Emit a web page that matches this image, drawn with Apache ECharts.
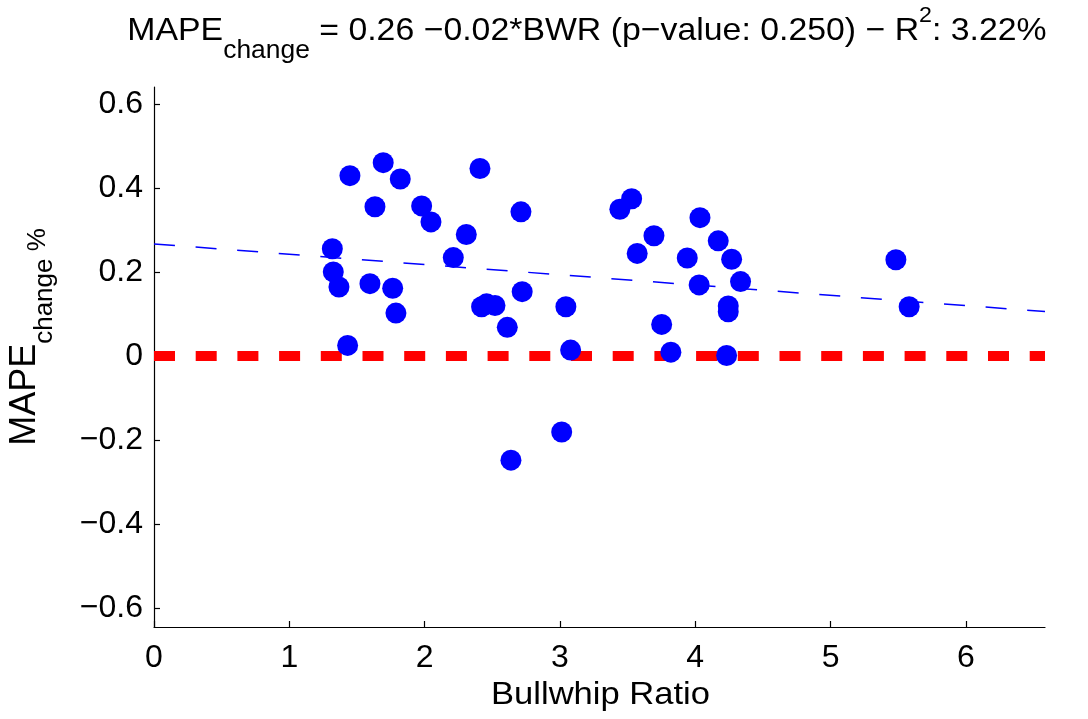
<!DOCTYPE html>
<html>
<head>
<meta charset="utf-8">
<script src="https://cdn.jsdelivr.net/npm/echarts@6/dist/echarts.min.js"></script>
<style>
html,body{margin:0;padding:0;background:#fff;}
#chart{width:1088px;height:719px;}
</style>
</head>
<body>
<div id="chart"></div>
<script>
// Bullwhip ratio (x) and MAPE change (y) for each observation
var bwr = [1.318, 1.325, 1.367, 1.448, 1.431, 1.596, 1.633, 1.694, 1.764, 1.788,
           1.820, 1.978, 2.047, 2.212, 2.308, 2.409, 2.421, 2.458, 2.520, 2.611,
           2.638, 2.712, 2.721, 3.013, 3.044, 3.079, 3.443, 3.530, 3.571, 3.695,
           3.752, 3.820, 3.941, 4.035, 4.029, 4.170, 4.232, 4.244, 4.244, 4.269,
           4.335, 5.483, 5.581];
var mapeChange = [0.255, 0.200, 0.164, 0.429, 0.025, 0.172, 0.355, 0.460, 0.161, 0.102,
                  0.421, 0.357, 0.319, 0.234, 0.289, 0.446, 0.117, 0.124, 0.120, 0.068,
                  -0.248, 0.343, 0.153, -0.181, 0.117, 0.014, 0.349, 0.374, 0.244, 0.286,
                  0.075, 0.009, 0.233, 0.329, 0.169, 0.274, 0.001, 0.119, 0.105, 0.230,
                  0.177, 0.229, 0.117];
// Fitted regression line endpoints
var fitX = [0, 6.585];
var fitY = [0.2665, 0.1055];
// Zero reference line
var zeroX = [0, 6.585];
var zeroY = [0, 0];
// Axis ranges and ticks
var xRange = [0, 6.585];
var yRange = [-0.645, 0.64];
var xTicks = [0, 1, 2, 3, 4, 5, 6];
var yTicks = [-0.6, -0.4, -0.2, 0, 0.2, 0.4, 0.6];
// Texts
var titleMain = 'MAPE';
var titleSub = 'change';
var titleRest = ' = 0.26 \u22120.02*BWR (p\u2212value: 0.250) \u2212 R';
var titleSup = '2';
var titleEnd = ': 3.22%';
var xName = 'Bullwhip Ratio';
var yNameMain = 'MAPE';
var yNameSub = 'change';
var yNameUnit = ' %';

var FONT = '"Liberation Sans", Arial, Helvetica, sans-serif';

function pairs(xs, ys) { return xs.map(function (x, i) { return [x, ys[i]]; }); }
function fmt(v) { return (v < 0 ? '\u2212' : '') + String(Math.abs(v)); }
function tok(size, padTop) {
  return {fontSize: size, fontFamily: FONT, fill: '#000', lineHeight: 60,
          verticalAlign: 'top', padding: [padTop, 0, 0, 0]};
}

var chart = echarts.init(document.getElementById('chart'), null, {renderer: 'canvas'});
chart.setOption({
  animation: false,
  backgroundColor: '#ffffff',
  grid: {left: 154, right: 43, top: 87, bottom: 92},
  xAxis: {
    type: 'value', min: xRange[0], max: xRange[1],
    axisLine: {show: true, onZero: false, lineStyle: {color: '#000', width: 1.2}},
    axisTick: {show: true, inside: true, length: 6, customValues: xTicks, lineStyle: {color: '#000', width: 1.2}},
    axisLabel: {show: true, customValues: xTicks, margin: 15, color: '#000', fontSize: 32, fontFamily: FONT, formatter: fmt},
    splitLine: {show: false}
  },
  yAxis: {
    type: 'value', min: yRange[0], max: yRange[1],
    axisLine: {show: true, onZero: false, lineStyle: {color: '#000', width: 1.2}},
    axisTick: {show: true, inside: true, length: 6, customValues: yTicks, lineStyle: {color: '#000', width: 1.2}},
    axisLabel: {show: true, customValues: yTicks, margin: 11, color: '#000', fontSize: 32, fontFamily: FONT, formatter: fmt},
    splitLine: {show: false}
  },
  graphic: [
    {
      type: 'text', x: 587, y: 30, scaleX: 1.057, z: 100,
      style: {
        text: '{m|' + titleMain + '}{s|' + titleSub + '}{m|' + titleRest + '}{p|' + titleSup + '}{m|' + titleEnd + '}',
        align: 'center', verticalAlign: 'middle',
        rich: {m: tok(32, 15.5), s: tok(25, 39), p: tok(22, 4.5)}
      }
    },
    {
      type: 'text', x: 600.5, y: 695.5, scaleX: 1.08, z: 100,
      style: {
        text: xName, fontSize: 32, fontFamily: FONT, fill: '#000',
        align: 'center', verticalAlign: 'middle'
      }
    },
    {
      type: 'text', x: 30, y: 337, rotation: Math.PI / 2, z: 100,
      style: {
        text: '{m|' + yNameMain + '}{s|' + yNameSub + '}{p|' + yNameUnit + '}',
        align: 'center', verticalAlign: 'middle',
        rich: {m: tok(36, 7.5), s: tok(26, 31.5), p: tok(26, 25)}
      }
    }
  ],
  series: [
    {
      type: 'line', data: pairs(fitX, fitY), showSymbol: false, symbol: 'none', z: 2,
      lineStyle: {color: '#0000ff', width: 1.5, type: [21, 20.7]}, silent: true
    },
    {
      type: 'line', data: pairs(zeroX, zeroY), showSymbol: false, symbol: 'none', z: 3,
      lineStyle: {color: '#ff0000', width: 10, type: [21, 20.7], cap: 'butt'}, silent: true
    },
    {
      type: 'scatter', data: pairs(bwr, mapeChange), symbol: 'circle', symbolSize: 21, z: 4,
      itemStyle: {color: '#0000ff', opacity: 1}
    }
  ]
});
</script>
</body>
</html>
